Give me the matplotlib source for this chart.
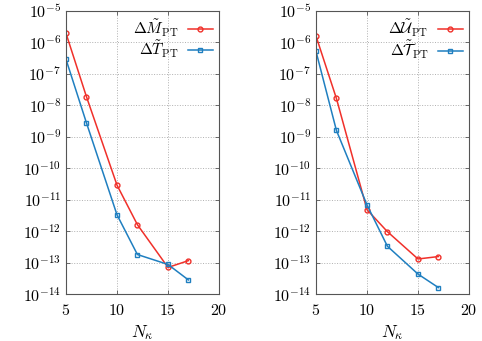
import matplotlib
matplotlib.use("Agg")
import matplotlib.pyplot as plt
from matplotlib.ticker import FixedLocator, NullLocator

plt.rcParams['mathtext.fontset'] = 'cm'
plt.rcParams['font.family'] = 'serif'
plt.rcParams['font.serif'] = ['DejaVu Serif']

n_kappa = [5, 7, 10, 12, 15, 17]

# left panel
dM = [1.95e-6, 1.9e-8, 2.9e-11, 1.6e-12, 7.0e-14, 1.15e-13]
dT = [2.9e-7, 2.8e-9, 3.3e-12, 1.8e-13, 8.7e-14, 2.8e-14]
# right panel
dU = [1.6e-6, 1.66e-8, 4.8e-12, 9.6e-13, 1.3e-13, 1.55e-13]
dTau = [5.2e-7, 1.6e-9, 6.8e-12, 3.3e-13, 4.3e-14, 1.6e-14]

labels_left = [r'$\Delta\tilde{M}_{\rm PT}$', r'$\Delta\tilde{T}_{\rm PT}$']
labels_right = [r'$\Delta\tilde{\mathcal{U}}_{\rm PT}$', r'$\Delta\tilde{\mathcal{T}}_{\rm PT}$']

xticks = [5, 10, 15, 20]
yexp = list(range(-14, -4))

red = '#f0302a'
blue = '#1f7fc0'

fig = plt.figure(figsize=(4.82, 3.41), dpi=100)
W, H = 482, 341
ax1 = fig.add_axes([66 / W, (H - 294) / H, 153 / W, 283 / H])
ax2 = fig.add_axes([316 / W, (H - 294) / H, 153 / W, 283 / H])


def panel(ax, a, b, labs):
    ax.plot(n_kappa, a, '-o', color=red, lw=1.1, ms=3.5, mfc='none', mew=1.0, label=labs[0])
    ax.plot(n_kappa, b, '-s', color=blue, lw=1.1, ms=3.5, mfc='none', mew=1.0, label=labs[1])
    ax.set_yscale('log')
    ax.set_xlim(5, 20)
    ax.set_ylim(1e-14, 1e-5)
    ax.xaxis.set_major_locator(FixedLocator(xticks))
    ax.yaxis.set_major_locator(FixedLocator([10.0 ** e for e in yexp]))
    ax.yaxis.set_minor_locator(NullLocator())
    ax.set_yticklabels([r'$10^{%d}$' % e for e in yexp])
    ax.set_xticklabels([r'$%d$' % t for t in xticks])
    ax.tick_params(direction='in', length=3, width=0.6, top=True, right=True,
                   labelsize=11.5, color='#555555')
    ax.tick_params(axis='x', pad=6)
    ax.grid(True, ls=':', color='#b0b0b0', lw=0.7)
    for s in ax.spines.values():
        s.set_linewidth(0.8)
        s.set_color('#555555')
    ax.set_xlabel(r'$N_\kappa$', fontsize=12.5, labelpad=3)
    ax.legend(loc='upper right', frameon=False, markerfirst=False, fontsize=11.2,
              handlelength=1.6, handletextpad=0.6, borderpad=0.0,
              labelspacing=0.0, borderaxespad=0.4)


panel(ax1, dM, dT, labels_left)
panel(ax2, dU, dTau, labels_right)

fig.savefig('out.png', dpi=100)
